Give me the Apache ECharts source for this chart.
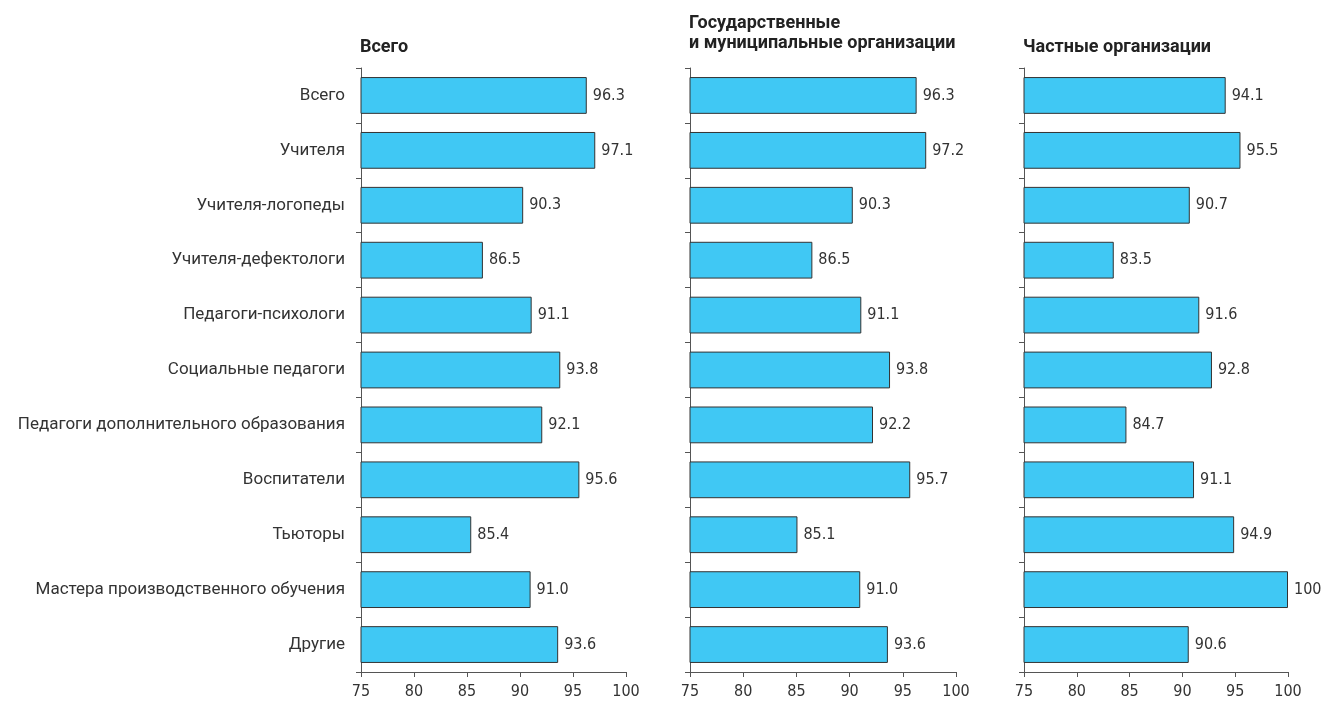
<!DOCTYPE html>
<html>
<head>
<meta charset="utf-8">
<script src="https://cdn.jsdelivr.net/npm/echarts@6/dist/echarts.min.js"></script>
<style>
  html, body { margin: 0; padding: 0; background: #fff; }
  #chart { width: 1326px; height: 706px; }
</style>
</head>
<body>
<div id="chart"></div>
<script>
var categories = ['Всего', 'Учителя', 'Учителя-логопеды', 'Учителя-дефектологи', 'Педагоги-психологи',
  'Социальные педагоги', 'Педагоги дополнительного образования', 'Воспитатели', 'Тьюторы',
  'Мастера производственного обучения', 'Другие'];
var allOrgs = [96.3, 97.1, 90.3, 86.5, 91.1, 93.8, 92.1, 95.6, 85.4, 91.0, 93.6];
var stateOrgs = [96.3, 97.2, 90.3, 86.5, 91.1, 93.8, 92.2, 95.7, 85.1, 91.0, 93.6];
var privateOrgs = [94.1, 95.5, 90.7, 83.5, 91.6, 92.8, 84.7, 91.1, 94.9, 100, 90.6];
var panelTitles = ['Всего', 'Государственные\nи муниципальные организации', 'Частные организации'];
var xTicks = [75, 80, 85, 90, 95, 100];

var chartDom = document.getElementById('chart');
var myChart = echarts.init(chartDom);
var option;

var axisColor = '#555';
var narrow = "'Liberation Sans Narrow', 'DejaVu Sans Condensed', sans-serif";
var lefts = [361, 690, 1024];
var widths = [265, 266, 264];
var panels = [allOrgs, stateOrgs, privateOrgs];

option = {
  animation: false,
  textStyle: { fontFamily: 'Roboto', color: '#333' },
  title: panelTitles.map(function (t, i) {
    return {
      text: t,
      left: lefts[i] - 6,
      top: i === 1 ? 8 : 32,
      textStyle: { fontFamily: 'Roboto', fontSize: 18, fontWeight: 'bold', color: '#222', lineHeight: 20 }
    };
  }),
  grid: lefts.map(function (l, i) {
    return { left: l, width: widths[i], top: 68, height: 604 };
  }),
  xAxis: panels.map(function (p, i) {
    return {
      type: 'value',
      gridIndex: i,
      min: xTicks[0],
      max: xTicks[xTicks.length - 1],
      interval: 5,
      splitLine: { show: false },
      axisLine: { show: true, lineStyle: { color: axisColor } },
      axisTick: { show: true, length: 5, lineStyle: { color: axisColor } },
      axisLabel: { color: '#333', fontSize: 16, margin: 12, fontFamily: narrow }
    };
  }),
  yAxis: panels.map(function (p, i) {
    return {
      type: 'category',
      gridIndex: i,
      inverse: true,
      data: categories,
      axisLine: { show: true, lineStyle: { color: axisColor } },
      axisTick: { show: true, length: 5, lineStyle: { color: axisColor } },
      axisLabel: { show: i === 0, color: '#333', fontSize: 17, margin: 16 }
    };
  }),
  series: panels.map(function (p, i) {
    return {
      type: 'bar',
      xAxisIndex: i,
      yAxisIndex: i,
      data: p,
      barCategoryGap: '33%',
      itemStyle: { color: '#40C8F4', borderColor: '#333', borderWidth: 1 },
      label: {
        show: true,
        position: 'right',
        distance: 6,
        color: '#333',
        fontSize: 16,
        fontFamily: narrow,
        formatter: function (d) {
          return d.value === 100 ? '100' : d.value.toFixed(1);
        }
      }
    };
  })
};

option && myChart.setOption(option);
</script>
</body>
</html>
